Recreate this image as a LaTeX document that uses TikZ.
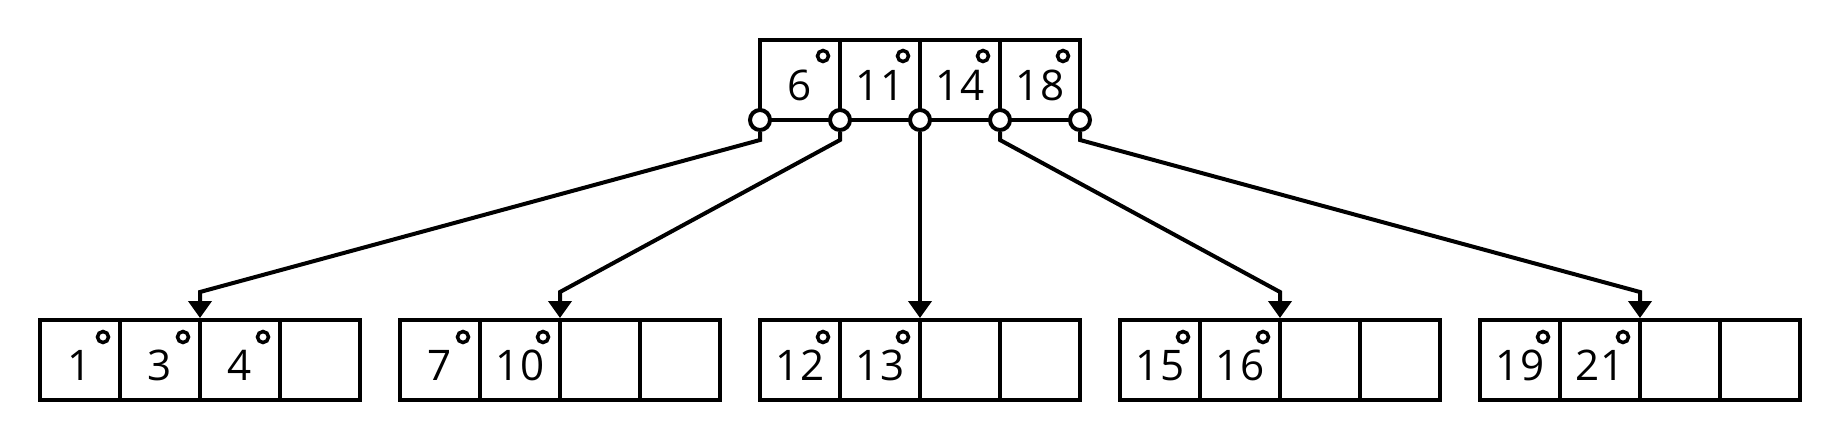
\documentclass[tikz,border=0pt]{standalone}
\usepackage{fontspec}
\setmainfont{Open Sans}
\usetikzlibrary{arrows.meta}

\newlength{\du}
\setlength{\du}{0.02cm}

\tikzset{
  cellbox/.style={draw, line width=4\du, minimum width=80\du, minimum height=80\du,
    inner sep=0pt, text height=40\du, text depth=0pt,
    font=\fontsize{24pt}{28pt}\selectfont},
  ptrdot/.style={circle, draw, fill=white, line width=4\du, minimum size=20\du, inner sep=0pt},
  keydot/.style={line width=3.5\du},
  link/.style={line width=4\du, -{Triangle[length=0.34cm,width=0.46cm]}}
}

\begin{document}
\begin{tikzpicture}[yscale=-1]
\useasboundingbox (0,0) rectangle (1840\du,440\du);

% root node
\node[cellbox] (rootc1) at (800\du,80\du) {6};
\node[cellbox] (rootc2) at (880\du,80\du) {11};
\node[cellbox] (rootc3) at (960\du,80\du) {14};
\node[cellbox] (rootc4) at (1040\du,80\du) {18};
\foreach \cx in {800,880,960,1040}
  \draw[keydot] (\cx\du+23\du,56\du) circle (5.5\du);

% leaves
\foreach \leaf/\xo/\ka/\kb/\kc in {1/40/1/3/4, 2/400/7/10/, 3/760/12/13/, 4/1120/15/16/, 5/1480/19/21/}{
  \node[cellbox] (leaf\leaf c1) at (\xo\du+40\du,360\du) {\ka};
  \node[cellbox] (leaf\leaf c2) at (\xo\du+120\du,360\du) {\kb};
  \node[cellbox] (leaf\leaf c3) at (\xo\du+200\du,360\du) {\kc};
  \node[cellbox] (leaf\leaf c4) at (\xo\du+280\du,360\du) {};
  \draw[keydot] (\xo\du+63\du,337\du) circle (5.5\du);
  \draw[keydot] (\xo\du+143\du,337\du) circle (5.5\du);
}
\draw[keydot] (263\du,337\du) circle (5.5\du);

% child pointers
\node[ptrdot] (p0) at (760\du,120\du) {};
\node[ptrdot] (p1) at (840\du,120\du) {};
\node[ptrdot] (p2) at (920\du,120\du) {};
\node[ptrdot] (p3) at (1000\du,120\du) {};
\node[ptrdot] (p4) at (1080\du,120\du) {};

\coordinate (k0) at (760\du,140\du);
\coordinate (k1) at (840\du,140\du);
\coordinate (k3) at (1000\du,140\du);
\coordinate (k4) at (1080\du,140\du);
\coordinate (a1) at (200\du,292\du);
\coordinate (a2) at (560\du,292\du);
\coordinate (a4) at (1280\du,292\du);
\coordinate (a5) at (1640\du,292\du);

\draw[link] (p0.south) -- (k0) -- (a1) -- (a1 |- leaf1c2.north);
\draw[link] (p1.south) -- (k1) -- (a2) -- (a2 |- leaf2c2.north);
\draw[link] (p2.south) -- (p2 |- leaf3c2.north);
\draw[link] (p3.south) -- (k3) -- (a4) -- (a4 |- leaf4c2.north);
\draw[link] (p4.south) -- (k4) -- (a5) -- (a5 |- leaf5c2.north);
\end{tikzpicture}
\end{document}
